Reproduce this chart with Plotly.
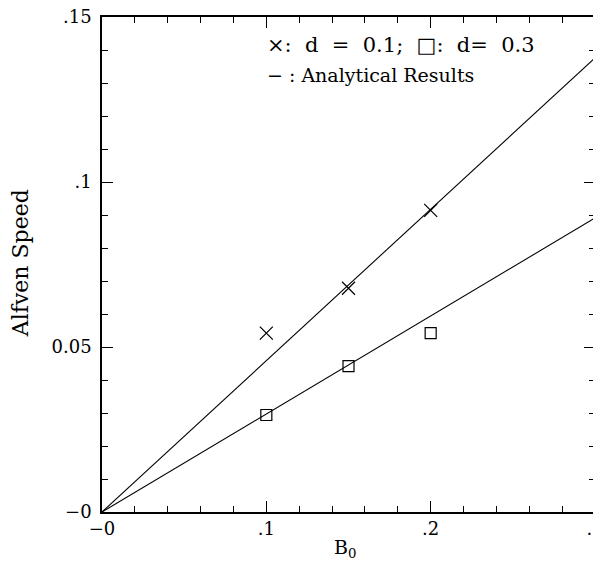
import plotly.graph_objects as go

# Data
b0_points = [0.1, 0.15, 0.2]
speed_d01 = [0.0542, 0.0678, 0.0914]
speed_d03 = [0.0294, 0.0442, 0.0542]
b0_line = [0.0, 0.3]
analytic_d01 = [0.0, 0.1376]
analytic_d03 = [0.0, 0.0891]

x_tickvals = [0, 0.1, 0.2, 0.3]
x_ticktext = ["\u22120", ".1", ".2", ".3"]
y_tickvals = [0, 0.05, 0.1, 0.15]
y_ticktext = ["\u22120", "0.05", ".1", ".15"]

FONT = "DejaVu Serif"

fig = go.Figure()
fig.add_trace(go.Scatter(x=b0_line, y=analytic_d01, mode="lines",
                         line=dict(color="black", width=1.1), showlegend=False))
fig.add_trace(go.Scatter(x=b0_line, y=analytic_d03, mode="lines",
                         line=dict(color="black", width=1.1), showlegend=False))
fig.add_trace(go.Scatter(x=b0_points, y=speed_d01, mode="markers",
                         marker=dict(symbol="x-thin", size=13,
                                     line=dict(color="black", width=1.2)),
                         showlegend=False))
fig.add_trace(go.Scatter(x=b0_points, y=speed_d03, mode="markers",
                         marker=dict(symbol="square-open", size=11, color="black",
                                     line=dict(color="black", width=1.2)),
                         showlegend=False))

axis_common = dict(
    showgrid=False, zeroline=False, showline=True, linecolor="black", linewidth=1.5,
    mirror="ticks", ticks="inside", ticklen=11, tickwidth=1, tickcolor="black",
    tickfont=dict(family=FONT, size=18, color="black"),
    automargin=False, ticklabeloverflow="allow",
)

fig.update_xaxes(range=[0, 0.3], tickmode="array", tickvals=x_tickvals,
                 ticktext=x_ticktext, ticklabelstandoff=0,
                 minor=dict(tickmode="linear", tick0=0, dtick=0.02, ticks="inside",
                            ticklen=6, tickcolor="black", tickwidth=1),
                 **axis_common)
fig.update_yaxes(range=[0, 0.15], tickmode="array", tickvals=y_tickvals,
                 ticktext=y_ticktext, ticklabelstandoff=5,
                 minor=dict(tickmode="linear", tick0=0, dtick=0.01, ticks="inside",
                            ticklen=6, tickcolor="black", tickwidth=1),
                 **axis_common)

# Axis titles
fig.add_annotation(x=-0.166, y=0.503, xref="paper", yref="paper", showarrow=False,
                   text="Alfven Speed", textangle=-90, xanchor="center",
                   yanchor="middle",
                   font=dict(family=FONT, size=22, color="black"))
fig.add_annotation(x=0.493, y=-0.073, xref="paper", yref="paper", showarrow=False,
                   text="B<sub>0</sub>", xanchor="center", yanchor="middle",
                   font=dict(family=FONT, size=19, color="black"))

# In-plot legend text
fig.add_annotation(x=0.0992, y=0.1415, xref="x", yref="y", xanchor="left",
                   yanchor="middle", showarrow=False,
                   text="\u00d7:  d  =  0.1;  \u25a1:  d=  0.3",
                   font=dict(family=FONT, size=21, color="black"))
fig.add_annotation(x=0.0992, y=0.1324, xref="x", yref="y", xanchor="left",
                   yanchor="middle", showarrow=False,
                   text="\u2212 : Analytical Results",
                   font=dict(family=FONT, size=19, color="black"))

fig.update_layout(width=593, height=573, plot_bgcolor="white", paper_bgcolor="white",
                  margin=dict(l=94, r=6, t=9, b=69))

fig.write_html("out.html")
